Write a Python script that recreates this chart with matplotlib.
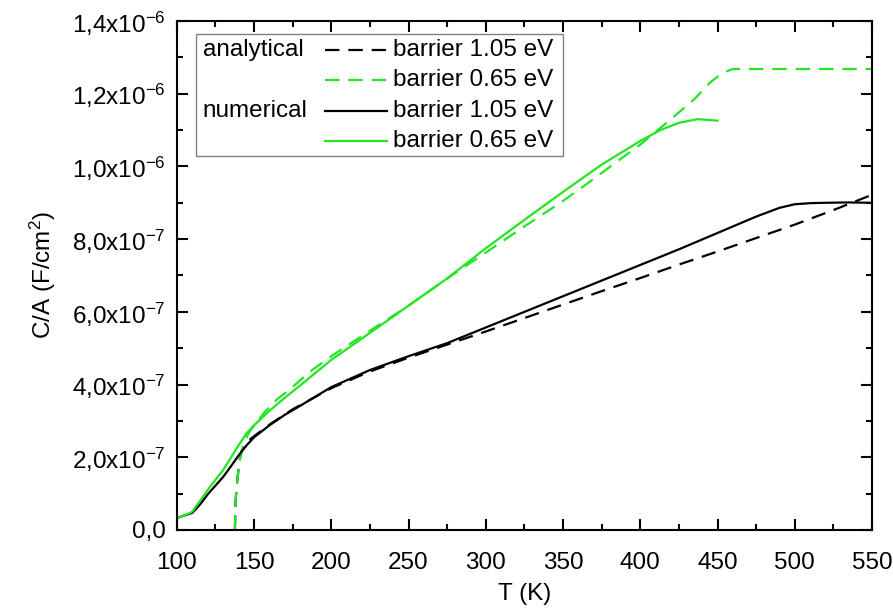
import numpy as np
import matplotlib; matplotlib.use("Agg")
import matplotlib.pyplot as plt
from matplotlib.ticker import MultipleLocator, FuncFormatter
from matplotlib.patches import Rectangle
plt.rcParams.update({"font.family": "Liberation Sans", "mathtext.fontset": "custom",
                     "mathtext.rm": "Liberation Sans", "mathtext.it": "Liberation Sans:italic",
                     "axes.linewidth": 1.5})

# numerical, barrier 1.05 eV (black solid)
T_num_105 = [100, 105, 110, 115, 120, 125, 130, 135, 140, 145, 150, 160, 170, 180, 200, 225, 250, 275,
             300, 325, 350, 375, 400, 425, 450, 475, 490, 500, 510, 520, 535, 550]
C_num_105 = [0.33, 0.40, 0.47, 0.70, 0.98, 1.22, 1.46, 1.75, 2.05, 2.32, 2.55, 2.88, 3.17, 3.42, 3.93, 4.40,
             4.78, 5.14, 5.57, 6.00, 6.43, 6.86, 7.29, 7.72, 8.17, 8.62, 8.86, 8.96, 8.99, 9.00, 9.01, 9.00]
# numerical, barrier 0.65 eV (green solid)
T_num_065 = [100, 105, 110, 115, 120, 125, 130, 135, 140, 145, 150, 160, 170, 180, 200, 225, 250, 275,
             300, 325, 350, 375, 400, 413, 425, 437, 450]
C_num_065 = [0.33, 0.40, 0.50, 0.80, 1.10, 1.38, 1.65, 1.99, 2.33, 2.65, 2.88, 3.28, 3.64, 3.98, 4.68, 5.42,
             6.17, 6.92, 7.75, 8.53, 9.30, 10.05, 10.70, 11.00, 11.20, 11.30, 11.26]
# analytical, barrier 1.05 eV (black dashed)
T_ana_105 = [137.6, 138, 138.5, 139, 140, 141, 142, 144, 147, 150, 160, 175, 200, 225, 250, 275, 300, 325,
             350, 375, 400, 425, 450, 475, 500, 525, 550]
C_ana_105 = [0.0, 0.75, 1.07, 1.30, 1.70, 2.00, 2.18, 2.35, 2.48, 2.58, 2.90, 3.32, 3.90, 4.36, 4.74, 5.10,
             5.46, 5.83, 6.20, 6.57, 6.93, 7.30, 7.66, 8.03, 8.40, 8.80, 9.22]
# analytical, barrier 0.65 eV (green dashed)
T_ana_065 = [137.6, 138, 138.5, 139, 140, 141, 142, 144, 147, 150, 157, 165, 173, 186, 200, 225, 250, 283,
             300, 325, 350, 369, 380, 400, 419, 435, 445, 453, 460, 550]
C_ana_065 = [0.0, 0.75, 1.07, 1.30, 1.70, 2.00, 2.20, 2.45, 2.70, 2.87, 3.25, 3.60, 3.86, 4.35, 4.78, 5.48,
             6.17, 7.15, 7.63, 8.35, 9.05, 9.63, 9.98, 10.60, 11.27, 11.85, 12.30, 12.57, 12.68, 12.68]

GREEN = "#22e622"
DASH = (0, (6.5, 4))
FS = 17.5

fig = plt.figure(figsize=(8.93, 6.11), dpi=100)
ax = fig.add_axes([0.198, 0.1326, 0.7785, 0.833])
sc = 1e-7
ax.plot(T_ana_105, np.array(C_ana_105) * sc, color="black", lw=1.6, ls=DASH)
ax.plot(T_ana_065, np.array(C_ana_065) * sc, color=GREEN, lw=1.6, ls=DASH)
ax.plot(T_num_105, np.array(C_num_105) * sc, color="black", lw=1.6)
ax.plot(T_num_065, np.array(C_num_065) * sc, color=GREEN, lw=1.6)

ax.set_xlim(100, 550); ax.set_ylim(0, 1.4e-6)
ax.xaxis.set_major_locator(MultipleLocator(50)); ax.xaxis.set_minor_locator(MultipleLocator(25))
ax.yaxis.set_major_locator(MultipleLocator(2e-7)); ax.yaxis.set_minor_locator(MultipleLocator(1e-7))

def yfmt(v, pos):
    if abs(v) < 1e-12: return "0,0"
    if v < 0: return ""
    e = int(np.floor(np.log10(v) + 1e-9)); m = v / 10 ** e
    return f"{m:.1f}".replace(".", ",") + "x10$^{" + str(e) + "}$"
ax.yaxis.set_major_formatter(FuncFormatter(yfmt))
ax.tick_params(which="both", direction="in", top=True, right=True, labelsize=FS, width=1.5)
ax.tick_params(which="major", length=8)
ax.tick_params(which="minor", length=4)
ax.tick_params(axis="x", which="major", pad=16)
ax.tick_params(axis="y", which="major", pad=8)
ax.set_xlabel("T (K)", fontsize=FS, labelpad=6)
ax.set_ylabel("C/A (F/cm$^2$)", fontsize=FS, labelpad=10)

# legend drawn by hand (two group labels + four entries)
ax.add_patch(Rectangle((0.027, 0.735), 0.528, 0.239, transform=ax.transAxes, facecolor="white",
                       edgecolor="#808080", lw=1.0, zorder=5))
rows = [0.943, 0.884, 0.823, 0.764]
entries = [("black", DASH, "barrier 1.05 eV"), (GREEN, DASH, "barrier 0.65 eV"),
           ("black", "-", "barrier 1.05 eV"), (GREEN, "-", "barrier 0.65 eV")]
for y, (c, ls, lab) in zip(rows, entries):
    ax.plot([0.213, 0.302], [y, y], color=c, ls=ls, lw=1.6, transform=ax.transAxes, zorder=6)
    ax.text(0.311, y, lab, transform=ax.transAxes, ha="left", va="center", fontsize=FS, zorder=6)
ax.text(0.037, rows[0], "analytical", transform=ax.transAxes, ha="left", va="center", fontsize=FS, zorder=6)
ax.text(0.037, rows[2], "numerical", transform=ax.transAxes, ha="left", va="center", fontsize=FS, zorder=6)

fig.savefig("out.png", dpi=100, facecolor="white")
